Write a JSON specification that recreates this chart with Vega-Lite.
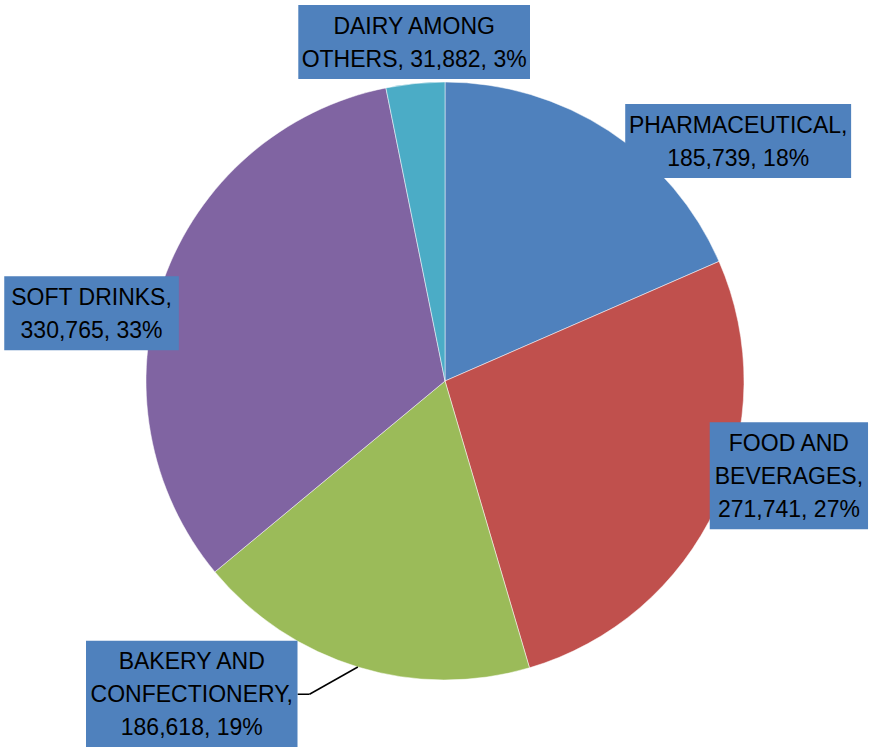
{
  "$schema": "https://vega.github.io/schema/vega-lite/v6.json",
  "width": 850,
  "height": 732,
  "autosize": "none",
  "padding": {"left": 20, "top": 15, "right": 0, "bottom": 0},
  "background": "#ffffff",
  "config": {"view": {"stroke": null}},
  "data": {
    "values": [
      {"category": "PHARMACEUTICAL", "value": 185739},
      {"category": "FOOD AND\nBEVERAGES", "value": 271741},
      {"category": "BAKERY AND\nCONFECTIONERY", "value": 186618},
      {"category": "SOFT DRINKS", "value": 330765},
      {"category": "DAIRY AMONG\nOTHERS", "value": 31882}
    ]
  },
  "transform": [
    {"window": [{"op": "row_number", "as": "idx"}]},
    {"joinaggregate": [{"op": "sum", "field": "value", "as": "total"}]},
    {"window": [{"op": "sum", "field": "value", "as": "cum"}], "sort": [{"field": "idx"}], "frame": [null, 0]},
    {"calculate": "(datum.cum - datum.value / 2) / datum.total * 2 * PI", "as": "mid"},
    {"calculate": "datum.category + (length(peek(split(datum.category, '\\n'))) < 8 ? ', ' : ',\\n') + format(datum.value, ',') + ', ' + format(datum.value / datum.total, '.0%')", "as": "label"},
    {"calculate": "split(datum.label, '\\n')", "as": "lines"},
    {"calculate": "length(datum.lines) > 0 ? 14.4*length(replace(datum.lines[0], regexp('[^A-Z]','g'), '')) + 12.8*length(replace(datum.lines[0], regexp('[^0-9]','g'), '')) + 6.3*length(replace(datum.lines[0], regexp('[^, ]','g'), '')) + 19*length(replace(datum.lines[0], regexp('[^%]','g'), '')) : 0", "as": "w0"},
    {"calculate": "length(datum.lines) > 1 ? 14.4*length(replace(datum.lines[1], regexp('[^A-Z]','g'), '')) + 12.8*length(replace(datum.lines[1], regexp('[^0-9]','g'), '')) + 6.3*length(replace(datum.lines[1], regexp('[^, ]','g'), '')) + 19*length(replace(datum.lines[1], regexp('[^%]','g'), '')) : 0", "as": "w1"},
    {"calculate": "length(datum.lines) > 2 ? 14.4*length(replace(datum.lines[2], regexp('[^A-Z]','g'), '')) + 12.8*length(replace(datum.lines[2], regexp('[^0-9]','g'), '')) + 6.3*length(replace(datum.lines[2], regexp('[^, ]','g'), '')) + 19*length(replace(datum.lines[2], regexp('[^%]','g'), '')) : 0", "as": "w2"},
    {"calculate": "max(datum.w0, datum.w1, datum.w2) + 18", "as": "bw"},
    {"calculate": "length(datum.lines) * 33 + 8", "as": "bh"},
    {"calculate": "datum.mid + [17.5, -9.6, 22.0, -8.6, 0.5][datum.idx - 1] * PI / 180", "as": "la"},
    {"calculate": "[378.8, 356.7, 402.8, 359.9, 340.4][datum.idx - 1]", "as": "lr"},
    {"calculate": "[0, 0, 1, 0, 0][datum.idx - 1]", "as": "leader"},
    {"calculate": "datum.lr * sin(datum.la)", "as": "lx"},
    {"calculate": "-datum.lr * cos(datum.la)", "as": "ly"},
    {"calculate": "datum.ly - (length(datum.lines) - 1) * 16.5 + 1", "as": "ty"},
    {"calculate": "datum.lx - datum.bw / 2", "as": "bx1"},
    {"calculate": "datum.lx + datum.bw / 2", "as": "bx2"},
    {"calculate": "datum.ly - datum.bh / 2", "as": "by1"},
    {"calculate": "datum.ly + datum.bh / 2", "as": "by2"},
    {"calculate": "datum.bx2 + 12", "as": "elx"},
    {"calculate": "299 * sin(datum.mid)", "as": "ex"},
    {"calculate": "-299 * cos(datum.mid)", "as": "ey"}
  ],
  "layer": [
    {
      "mark": {"type": "arc", "outerRadius": 299, "stroke": "#ffffff", "strokeWidth": 0.5},
      "encoding": {
        "theta": {"field": "value", "type": "quantitative", "stack": true},
        "order": {"field": "idx", "type": "quantitative"},
        "color": {
          "field": "category",
          "type": "nominal",
          "scale": {
            "domain": ["PHARMACEUTICAL", "FOOD AND\nBEVERAGES", "BAKERY AND\nCONFECTIONERY", "SOFT DRINKS", "DAIRY AMONG\nOTHERS"],
            "range": ["#4F81BD", "#C0504D", "#9BBB59", "#8064A2", "#4BACC6"]
          },
          "legend": null
        }
      }
    },
    {
      "transform": [{"filter": "datum.leader == 1"}],
      "mark": {"type": "rule", "color": "#000000", "strokeWidth": 1.5},
      "encoding": {
        "x": {"field": "elx", "type": "quantitative", "scale": {"domain": [-425, 425], "nice": false, "zero": false}, "axis": null},
        "y": {"field": "ly", "type": "quantitative", "scale": {"domain": [-366, 366], "nice": false, "zero": false, "reverse": true}, "axis": null},
        "x2": {"field": "ex"},
        "y2": {"field": "ey"}
      }
    },
    {
      "transform": [{"filter": "datum.leader == 1"}],
      "mark": {"type": "rule", "color": "#000000", "strokeWidth": 1.5},
      "encoding": {
        "x": {"field": "bx2", "type": "quantitative", "scale": {"domain": [-425, 425], "nice": false, "zero": false}, "axis": null},
        "y": {"field": "ly", "type": "quantitative", "scale": {"domain": [-366, 366], "nice": false, "zero": false, "reverse": true}, "axis": null},
        "x2": {"field": "elx"},
        "y2": {"field": "ly"}
      }
    },
    {
      "mark": {"type": "rect", "color": "#4F81BD"},
      "encoding": {
        "x": {"field": "bx1", "type": "quantitative", "scale": {"domain": [-425, 425], "nice": false, "zero": false}, "axis": null},
        "x2": {"field": "bx2"},
        "y": {"field": "by1", "type": "quantitative", "scale": {"domain": [-366, 366], "nice": false, "zero": false, "reverse": true}, "axis": null},
        "y2": {"field": "by2"}
      }
    },
    {
      "mark": {
        "type": "text",
        "font": "Liberation Sans",
        "fontSize": 23,
        "lineHeight": 33,
        "lineBreak": "\n",
        "align": "center",
        "baseline": "middle",
        "color": "#000000"
      },
      "encoding": {
        "x": {"field": "lx", "type": "quantitative", "scale": {"domain": [-425, 425], "nice": false, "zero": false}, "axis": null},
        "y": {"field": "ty", "type": "quantitative", "scale": {"domain": [-366, 366], "nice": false, "zero": false, "reverse": true}, "axis": null},
        "text": {"field": "label", "type": "nominal"}
      }
    }
  ]
}
